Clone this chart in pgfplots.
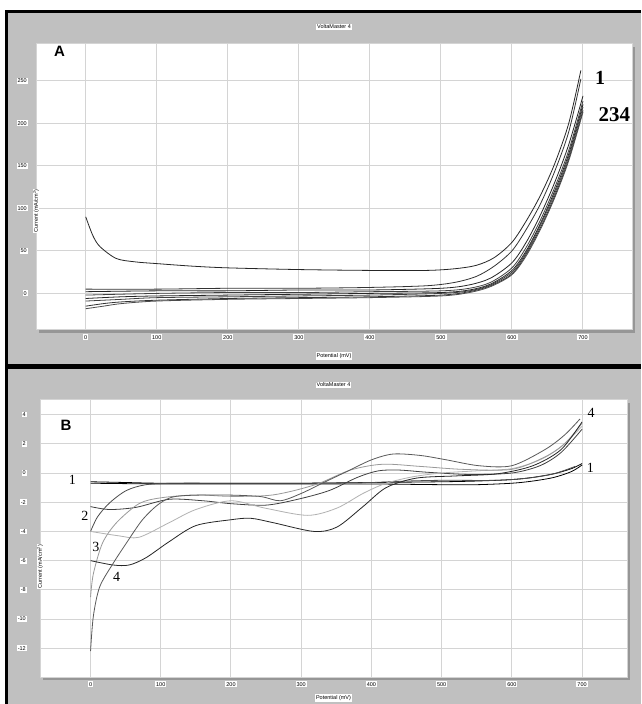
\documentclass[border=0pt]{standalone}
\usepackage{pgfplots}
\pgfplotsset{compat=1.18}
\usepackage{fontspec}
\setmainfont{Liberation Sans}
\newfontfamily\serifnum{Liberation Serif}
\definecolor{panelgray}{RGB}{192,192,192}
\definecolor{gridgray}{RGB}{212,212,212}
\definecolor{shadowgray}{RGB}{150,150,150}
\pgfplotsset{
  vmstyle/.style={
    scale only axis,
    clip mode=individual,
    axis background/.style={fill=white},
    axis line style={draw=gridgray, line width=1pt},
    grid=major,
    major grid style={draw=gridgray, line width=1pt},
    major tick length=0pt,
    tick style={draw=none},
    every tick label/.append style={fill=white, inner sep=1pt, font=\fontsize{5.5}{6}\selectfont},
    /pgf/number format/assume math mode=true,
    xtick={0,100,...,700},
    xticklabel shift=4pt,
    title={VoltaMaster 4},
    every axis title/.style={at={(axis description cs:0.5,1)}, anchor=center, fill=white, inner sep=1pt, font=\fontsize{5.5}{6}\selectfont},
    xlabel={Potential (mV)},
    every axis x label/.style={at={(axis description cs:0.5,0)}, anchor=center, fill=white, inner sep=1pt, font=\fontsize{5.5}{6}\selectfont},
    ylabel={Current (mA/cm\textsuperscript{2})},
    every axis y label/.style={at={(axis description cs:0,0.5)}, rotate=90, anchor=center, fill=white, inner sep=0.5pt, font=\fontsize{5.5}{6}\selectfont},
    every axis plot/.append style={smooth, tension=0.5, line width=0.8pt, no markers},
  }
}
\begin{document}
\begin{tikzpicture}[x=1pt,y=1pt]
\fill[white] (0,0) rectangle (641,704);
\fill[panelgray] (7,339) rectangle (641,692);
\fill[panelgray] (7,0) rectangle (641,335);
\fill[black] (5,0) rectangle (8,694);
\fill[black] (5,691) rectangle (641,694);
\fill[black] (5,335) rectangle (641,339.5);
\fill[shadowgray] (39,371) rectangle (635,657);
\fill[shadowgray] (43,24) rectangle (630,301);

% ---------------- Panel A ----------------
\begin{axis}[vmstyle,
  at={(36pt,374pt)}, anchor=south west,
  width=596pt, height=286pt,
  xmin=-70, xmax=769, ymin=-43, ymax=293,
  ytick={0,50,...,250},
  yticklabel shift=8pt,
  title style={yshift=17pt},
  ylabel style={xshift=-24pt},
  xlabel style={yshift=-26pt},
]
\addplot[black!85] coordinates {(0,90) (10,68) (20,55) (43,41) (70,37) (100,35) (150,32) (200,30) (300,28) (400,27) (480,27) (520,29) (550,33) (575,42) (600,60) (620,85) (640,115) (660,152) (680,200) (697,262)};
\addplot[black!80] coordinates {(0,5) (100,5) (200,6) (300,6) (400,7) (480,9) (520,13) (550,20) (575,32) (600,50) (620,75) (640,105) (660,143) (680,190) (697,252)};
\addplot[black!85] coordinates {(0,2) (100,3) (200,3) (300,4) (400,4) (500,6) (540,10) (570,18) (600,36) (620,60) (640,92) (660,130) (680,175) (700,232)};
\addplot[black!75] coordinates {(0,-2) (100,0) (200,1) (300,1) (400,2) (500,3) (540,6) (570,13) (600,30) (620,54) (640,86) (660,124) (680,168) (700,226)};
\addplot[black!85] coordinates {(0,-6) (50,-4) (100,-3) (200,-2) (300,-1) (400,0) (500,1) (540,4) (570,11) (600,27) (620,50) (640,82) (660,120) (680,164) (700,222)};
\addplot[black!75] coordinates {(0,-9) (50,-7) (100,-5) (200,-4) (300,-3) (400,-2) (500,0) (540,3) (570,10) (600,25) (620,48) (640,80) (660,117) (680,161) (700,219)};
\addplot[black!80] coordinates {(0,-15) (25,-12) (50,-10) (100,-8) (200,-6) (300,-5) (400,-4) (500,-2) (540,2) (570,9) (600,23) (620,46) (640,77) (660,114) (680,158) (700,215)};
\addplot[black!70] coordinates {(0,-18) (25,-15) (50,-12) (100,-9) (200,-7) (300,-6) (400,-5) (500,-3) (540,1) (570,8) (600,22) (620,44) (640,75) (660,112) (680,156) (700,213)};
\node[font=\fontsize{15}{15}\selectfont\bfseries] at (axis cs:-37,284) {A};
\node[font=\serifnum\bfseries\fontsize{20}{20}\selectfont] at (axis cs:724,253) {1};
\node[font=\serifnum\bfseries\fontsize{21}{21}\selectfont] at (axis cs:744,210) {234};
\end{axis}

% ---------------- Panel B ----------------
\begin{axis}[vmstyle,
  at={(40pt,27pt)}, anchor=south west,
  width=587pt, height=277pt,
  xmin=-72, xmax=764, ymin=-13.97, ymax=5.0,
  ytick={-12,-10,...,4},
  yticklabel shift=13pt,
  title style={yshift=15pt},
  ylabel style={xshift=-28pt},
  xlabel style={yshift=-21pt},
]
\addplot[black] coordinates {(0,-0.6) (50,-0.65) (100,-0.7) (200,-0.7) (300,-0.7) (400,-0.65) (500,-0.6) (550,-0.55) (600,-0.45) (630,-0.3) (660,-0.05) (685,0.3) (700,0.65)};
\addplot[black] coordinates {(0,-0.7) (100,-0.75) (200,-0.75) (300,-0.75) (400,-0.75) (500,-0.8) (550,-0.8) (600,-0.7) (630,-0.55) (660,-0.3) (685,0.1) (700,0.55)};
\addplot[black!70] coordinates {(0,-4.0) (10,-3.0) (27,-2.05) (51,-1.2) (79,-0.8) (120,-0.7) (200,-0.7) (300,-0.7) (400,-0.65) (450,-0.55) (500,-0.5) (577,-0.5) (623,-0.35) (660,-0.05) (690,0.45)};
\addplot[black!75] coordinates {(0,-2.3) (27,-2.5) (65,-2.35) (112,-1.8) (160,-1.9) (200,-2.1) (250,-2.2) (295,-1.8) (340,-1.2) (380,-0.3) (410,0.15) (440,0.2) (480,0.05) (540,-0.1) (600,0.0) (640,0.5) (670,1.4) (700,3.0)};
\addplot[black!30] coordinates {(0,-4.0) (40,-4.3) (69,-4.4) (112,-3.4) (150,-2.5) (200,-1.9) (248,-2.4) (309,-2.9) (351,-2.4) (388,-1.4) (421,-0.7) (460,-0.25) (500,0.0) (550,0.15) (600,0.3) (640,0.9) (670,1.8) (700,3.2)};
\addplot[black!40] coordinates {(0,-8.5) (4,-6.9) (17,-4.8) (37,-3.4) (69,-2.1) (100,-1.7) (150,-1.5) (200,-1.6) (260,-1.5) (320,-0.8) (370,0.2) (416,0.6) (470,0.45) (530,0.25) (600,0.25) (647,1.1) (675,2.0) (700,3.4)};
\addplot[black!85] coordinates {(0,-6.0) (32,-6.3) (55,-6.3) (79,-5.8) (112,-4.7) (150,-3.6) (200,-3.2) (228,-3.1) (260,-3.4) (318,-4.0) (351,-3.7) (388,-2.3) (421,-1.0) (464,-0.35) (520,-0.2) (580,-0.05) (630,0.5) (670,1.6) (700,3.5)};
\addplot[black!65] coordinates {(0,-12.2) (4,-9.8) (13,-7.8) (32,-6.2) (51,-4.8) (74,-3.2) (98,-2.1) (122,-1.6) (180,-1.5) (240,-1.6) (270,-1.9) (300,-1.4) (330,-0.7) (365,0.1) (400,0.9) (431,1.3) (470,1.2) (507,0.9) (553,0.5) (600,0.5) (647,1.6) (675,2.6) (697,3.7)};
\node[font=\fontsize{15}{15}\selectfont\bfseries] at (axis cs:-35,3.29) {B};
\node[font=\serifnum\fontsize{14}{14}\selectfont] at (axis cs:-26,-0.48) {1};
\node[font=\serifnum\fontsize{14}{14}\selectfont] at (axis cs:-8,-2.95) {2};
\node[font=\serifnum\fontsize{14}{14}\selectfont] at (axis cs:7.6,-5.05) {3};
\node[font=\serifnum\fontsize{14}{14}\selectfont] at (axis cs:37,-7.1) {4};
\node[font=\serifnum\fontsize{14}{14}\selectfont] at (axis cs:713,4.11) {4};
\node[font=\serifnum\fontsize{14}{14}\selectfont] at (axis cs:712,0.34) {1};
\end{axis}
\pgfresetboundingbox
\path[use as bounding box] (0,0) rectangle (641,704);
\end{tikzpicture}
\end{document}
